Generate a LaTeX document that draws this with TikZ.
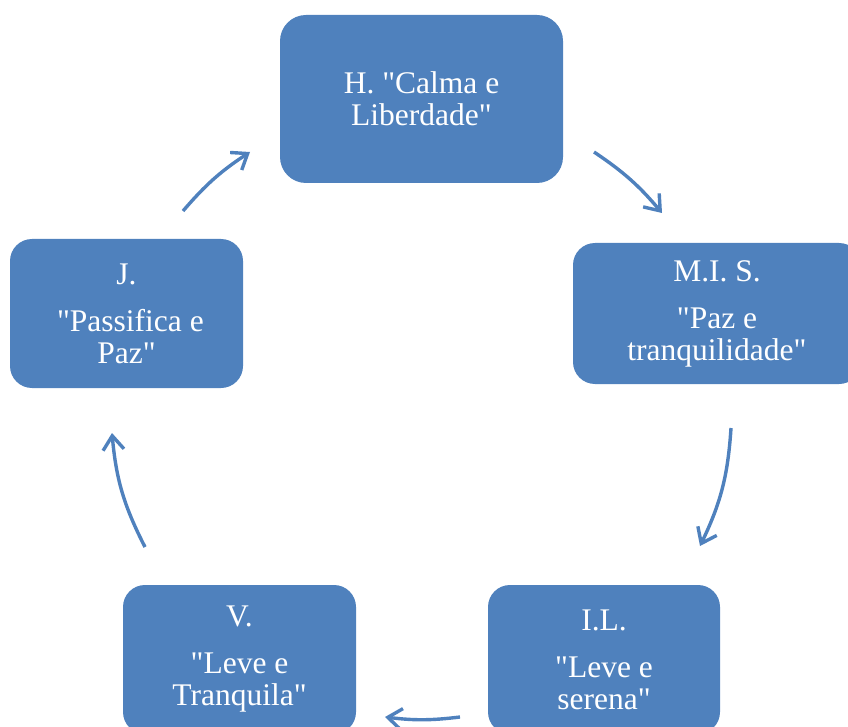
\documentclass[tikz,border=0pt]{standalone}
\usepackage{fontspec}
\setmainfont{Liberation Serif}
\usetikzlibrary{arrows.meta}
\definecolor{boxblue}{HTML}{4F81BD}
\newcommand{\qq}{\textquotedbl}
\begin{document}
\begin{tikzpicture}[x=1pt,y=-1pt,
  stage/.style={fill=boxblue, draw=none, rounded corners=22pt, text=white,
    align=center, inner sep=0pt, minimum width=233pt, minimum height=149pt,
    font=\fontsize{31.5}{32}\selectfont},
  flow/.style={draw=boxblue, line width=3.4pt,
    -{Straight Barb[length=14pt,width=21pt]}}]
\useasboundingbox (0,0) rectangle (848,727);

% the five stages of the cycle
\node[stage, minimum width=283pt, minimum height=168pt, rounded corners=26pt]
  (h) at (421.5,99) {H. \qq Calma e\\Liberdade\qq};
\node[stage, minimum width=288pt, minimum height=141pt]
  (mis) at (717,313.5) {M.I. S.\\[15pt]\qq Paz e\\tranquilidade\qq};
\node[stage, minimum width=232pt] (il) at (604,659.5) {I.L.\\[15pt]\qq Leve e\\serena\qq};
\node[stage] (v) at (239.5,659.5) {V.\\[15pt]\qq Leve e\\Tranquila\qq};
\node[stage] (j) at (126.5,313.5) {J.\\[15pt]\hspace*{0.25em}\qq Passifica e\\Paz\qq};

% end points of the curved arrows between the stages
\coordinate (a1s) at (183,211); \coordinate (a1e) at (250,152);
\coordinate (a2s) at (594,152); \coordinate (a2e) at (662,213);
\coordinate (a3s) at (731,428); \coordinate (a3e) at (700,546);
\coordinate (a4s) at (460,717); \coordinate (a4e) at (385,717);
\coordinate (a5s) at (145,547); \coordinate (a5e) at (112,433);

\draw[flow] (a1s) to[bend left=8] (a1e);
\draw[flow] (a2s) to[bend left=8] (a2e);
\draw[flow] (a3s) to[bend left=11] (a3e);
\draw[flow] (a4s) to[bend left=7] (a4e);
\draw[flow] (a5s) to[bend left=11] (a5e);
\end{tikzpicture}
\end{document}
